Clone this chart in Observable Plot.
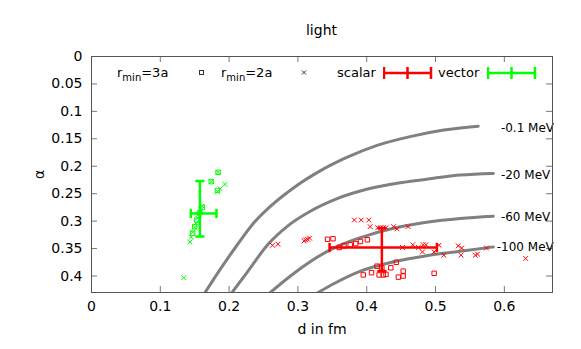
<!DOCTYPE html>
<html><head><meta charset="utf-8">
<script src="https://cdn.jsdelivr.net/npm/d3@7"></script>
<script src="https://cdn.jsdelivr.net/npm/@observablehq/plot@0.6"></script>
<style>
body{margin:0;background:#fff;}
#wrap{position:relative;width:581px;height:349px;font-family:"DejaVu Sans",sans-serif;color:#000;background:#fff;overflow:hidden;}
#title{height:40px;box-sizing:border-box;padding-top:22px;padding-left:91px;padding-right:29px;text-align:center;font-size:14px;line-height:16px;}
.lg{position:absolute;font-size:13px;line-height:16px;white-space:nowrap;top:65px;}
.lg sub{font-size:10px;vertical-align:-4px;line-height:0;}
.ic{position:absolute;top:62px;}
</style></head>
<body><div id="wrap"><div id="title">light</div><div id="chart"></div></div>
<script>
// ---- ticks ----
const xTicks = [0, 0.1, 0.2, 0.3, 0.4, 0.5, 0.6];
const yTicks = [0, 0.05, 0.1, 0.15, 0.2, 0.25, 0.3, 0.35, 0.4];

// ---- binding-energy curves ----
const curveNames = ["-0.1 MeV", "-20 MeV", "-60 MeV", "-100 MeV"];
const curveLabelX = [0.595, 0.595, 0.595, 0.589];
const curveLabelY = [0.130, 0.216, 0.292, 0.347];
const c01X = [0.164, 0.188, 0.212, 0.236, 0.260, 0.294, 0.333, 0.371, 0.415, 0.463, 0.512, 0.562];
const c01Y = [0.432, 0.386, 0.343, 0.303, 0.273, 0.239, 0.208, 0.184, 0.162, 0.146, 0.134, 0.127];
const c20X = [0.203, 0.227, 0.256, 0.285, 0.318, 0.357, 0.400, 0.449, 0.497, 0.536, 0.584];
const c20Y = [0.432, 0.392, 0.343, 0.309, 0.282, 0.259, 0.242, 0.230, 0.222, 0.216, 0.213];
const c60X = [0.258, 0.285, 0.314, 0.352, 0.391, 0.439, 0.487, 0.536, 0.584];
const c60Y = [0.432, 0.404, 0.377, 0.349, 0.330, 0.313, 0.302, 0.295, 0.291];
const c100X = [0.324, 0.352, 0.391, 0.439, 0.487, 0.536, 0.584];
const c100Y = [0.434, 0.414, 0.391, 0.374, 0.363, 0.355, 0.347];

// ---- scalar (red) points ----
const scalar2aX = [0.263,0.271,0.309,0.311,0.314,0.317,0.382,0.392,0.403,0.405,0.416,0.420,0.424,0.428,0.439,0.444,0.460,0.452,0.467,0.475,0.482,0.486,0.481,0.498,0.505,0.512,0.533,0.538,0.537,0.558,0.561,0.574,0.631];
const scalar2aY = [0.344,0.342,0.336,0.334,0.333,0.331,0.298,0.298,0.298,0.310,0.312,0.312,0.312,0.312,0.310,0.314,0.310,0.348,0.343,0.348,0.343,0.343,0.356,0.356,0.344,0.362,0.345,0.349,0.362,0.362,0.360,0.349,0.368];
const scalar3aX = [0.343,0.351,0.360,0.367,0.376,0.384,0.391,0.401,0.415,0.422,0.418,0.424,0.428,0.407,0.395,0.435,0.443,0.453,0.453,0.446,0.498];
const scalar3aY = [0.333,0.332,0.348,0.345,0.343,0.341,0.337,0.334,0.382,0.385,0.398,0.398,0.397,0.394,0.398,0.385,0.375,0.391,0.400,0.402,0.395];

// ---- vector (green) points ----
const vector2aX = [0.184,0.174,0.194,0.187,0.183,0.161,0.159,0.156,0.154,0.152,0.150,0.147,0.145,0.143,0.134];
const vector2aY = [0.211,0.228,0.233,0.241,0.246,0.273,0.279,0.287,0.294,0.303,0.311,0.320,0.329,0.338,0.403];
const vector3aX = [0.184,0.174,0.183,0.161,0.157,0.153,0.150,0.147];
const vector3aY = [0.211,0.228,0.244,0.275,0.285,0.298,0.310,0.322];

// ---- averages with error bars ----
const barNames = ["scalar", "vector"];
const barColors = ["#ff0000", "#00ff00"];
const barX = [0.422, 0.1575];
const barXlo = [0.346, 0.1444];
const barXhi = [0.502, 0.1816];
const barY = [0.348, 0.286];
const barYlo = [0.3125, 0.227];
const barYhi = [0.391, 0.328];

// legend labels
const legendPoints = ["3a", "2a"];

// ---------- build tables ----------
const curveXs = [c01X, c20X, c60X, c100X], curveYs = [c01Y, c20Y, c60Y, c100Y];
const curves = curveNames.flatMap((n, k) => curveXs[k].map((x, i) => ({name: n, x, y: curveYs[k][i]})));
const labels = curveNames.map((n, k) => ({name: n, x: curveLabelX[k], y: curveLabelY[k]}));
const pts = (xs, ys, c) => xs.map((x, i) => ({x, y: ys[i], c}));
const crosses = [...pts(scalar2aX, scalar2aY, "#ff0000"), ...pts(vector2aX, vector2aY, "#00ff00")];
const squares = [...pts(scalar3aX, scalar3aY, "#ff0000"), ...pts(vector3aX, vector3aY, "#00ff00")];
const bars = barNames.map((n, k) => ({n, c: barColors[k], x: barX[k], xlo: barXlo[k], xhi: barXhi[k], y: barY[k], ylo: barYlo[k], yhi: barYhi[k]}));
const hCaps = bars.flatMap(b => [{x: b.xlo, y: b.y, c: b.c}, {x: b.xhi, y: b.y, c: b.c}]);
const vCaps = bars.flatMap(b => [{x: b.x, y: b.ylo, c: b.c}, {x: b.x, y: b.yhi, c: b.c}]);

const vline = {draw(ctx, size) { const h = Math.sqrt(size) / 2; ctx.moveTo(0, -h); ctx.lineTo(0, h); }};
const hline = {draw(ctx, size) { const h = Math.sqrt(size) / 2; ctx.moveTo(-h, 0); ctx.lineTo(h, 0); }};

const W = 581, H = 309, mt = 16, mb = 57, ml = 91, mr = 29;
const pw = W - ml - mr, ph = H - mt - mb;
const fmt = d => String(d);

const chart = Plot.plot({
  width: W, height: H, marginTop: mt, marginBottom: mb, marginLeft: ml, marginRight: mr,
  style: {fontFamily: "DejaVu Sans", fontSize: "14px", background: "white", color: "black"},
  x: {domain: [0, 0.67]},
  y: {domain: [0, 0.43], reverse: true},
  marks: [
    Plot.axisX(xTicks, {tickSize: 0, tickPadding: 9, tickFormat: fmt, label: "d in fm", labelAnchor: "center", labelArrow: "none", labelOffset: 41, fontSize: 14}),
    Plot.axisY(yTicks, {tickSize: 0, tickPadding: 9, tickFormat: fmt, label: "α", labelAnchor: "center", labelArrow: "none", labelOffset: 57, fontSize: 14}),
    Plot.tickX(xTicks, {x: d => d, insetTop: ph - 6, stroke: "#777"}),
    Plot.tickX(xTicks, {x: d => d, insetBottom: ph - 6, stroke: "#777"}),
    Plot.tickY(yTicks, {y: d => d, insetLeft: pw - 6, stroke: "#777"}),
    Plot.tickY(yTicks, {y: d => d, insetRight: pw - 6, stroke: "#777"}),
    Plot.line(curves, {x: "x", y: "y", z: "name", stroke: "#808080", strokeWidth: 3, curve: "monotone-x", clip: true}),
    Plot.text(labels, {x: "x", y: "y", text: "name", textAnchor: "start", fontSize: 12, fill: "black"}),
    Plot.dot(squares, {x: "x", y: "y", symbol: "square", r: 2.5, stroke: "c", fill: "none", strokeWidth: 1}),
    Plot.dot(crosses, {x: "x", y: "y", symbol: "times", r: 2.3, stroke: "c", strokeWidth: 1}),
    Plot.ruleY(bars, {y: "y", x1: "xlo", x2: "xhi", stroke: "c", strokeWidth: 2.5}),
    Plot.ruleX(bars, {x: "x", y1: "ylo", y2: "yhi", stroke: "c", strokeWidth: 2.5}),
    Plot.dot(hCaps, {x: "x", y: "y", symbol: vline, r: 5.2, stroke: "c", fill: "none", strokeWidth: 2.5}),
    Plot.dot(vCaps, {x: "x", y: "y", symbol: hline, r: 5.2, stroke: "c", fill: "none", strokeWidth: 2.5}),
    Plot.frame({stroke: "#555"})
  ]
});
document.getElementById("chart").appendChild(chart);

// ---------- legend (inside plot, top) ----------
const wrap = document.getElementById("wrap");
function addText(html, left) { const s = document.createElement("span"); s.className = "lg"; s.style.left = left + "px"; s.innerHTML = html; wrap.appendChild(s); }
function addIcon(svg, left, w) { const d = document.createElement("div"); d.className = "ic"; d.style.left = left + "px"; d.innerHTML = `<svg width="${w}" height="22" xmlns="http://www.w3.org/2000/svg">${svg}</svg>`; wrap.appendChild(d); }
addText(`r<sub>min</sub>=${legendPoints[0]}`, 117);
addIcon(`<rect x="2.5" y="8.5" width="4" height="4" fill="none" stroke="#333"/>`, 197, 10);
addText(`r<sub>min</sub>=${legendPoints[1]}`, 221);
addIcon(`<path d="M2,8.5L6,12.5M6,8.5L2,12.5" stroke="#333"/>`, 300, 10);
const barIcon = c => `<path d="M1,11H48M1,5V17M48,5V17M24.5,5V17" stroke="${c}" stroke-width="2.5" fill="none"/>`;
addText(barNames[0], 337);
addIcon(barIcon(barColors[0]), 383, 50);
addText(barNames[1], 438);
addIcon(barIcon(barColors[1]), 487, 50);
</script>
</body></html>
